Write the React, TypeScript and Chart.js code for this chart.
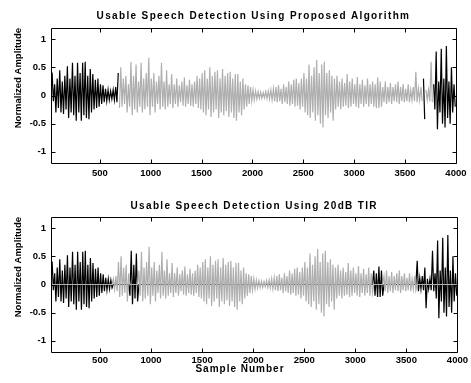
import React, { useEffect, useRef } from 'react';
import { Chart, registerables } from 'chart.js';

Chart.register(...registerables);

// Envelope of the speech signal: one positive and one
// negative peak for each window of 25 samples (160 windows = 4000 samples).
const WINDOW_SIZE = 25;
const upperPeaks = [
  0.05, 0.41, 0.2, 0.3, 0.45, 0.25, 0.35, 0.52, 0.3, 0.58,
  0.35, 0.58, 0.4, 0.58, 0.6, 0.35, 0.47, 0.38, 0.28, 0.3,
  0.2, 0.18, 0.12, 0.1, 0.08, 0.1, 0.15, 0.4, 0.5, 0.3,
  0.35, 0.2, 0.6, 0.35, 0.55, 0.25, 0.58, 0.3, 0.4, 0.67,
  0.3, 0.4, 0.25, 0.35, 0.58, 0.25, 0.45, 0.2, 0.38, 0.2,
  0.3, 0.18, 0.25, 0.32, 0.18, 0.28, 0.2, 0.25, 0.35, 0.3,
  0.4, 0.45, 0.3, 0.5, 0.35, 0.42, 0.45, 0.3, 0.47, 0.35,
  0.4, 0.42, 0.3, 0.38, 0.38, 0.25, 0.3, 0.2, 0.18, 0.15,
  0.1, 0.08, 0.07, 0.06, 0.05, 0.07, 0.08, 0.1, 0.12, 0.15,
  0.18, 0.12, 0.2, 0.15, 0.25, 0.2, 0.28, 0.3, 0.22, 0.3,
  0.4, 0.3, 0.55, 0.35, 0.5, 0.63, 0.4, 0.55, 0.6, 0.4,
  0.45, 0.35, 0.3, 0.35, 0.25, 0.3, 0.22, 0.38, 0.25, 0.3,
  0.2, 0.33, 0.2, 0.28, 0.18, 0.3, 0.2, 0.25, 0.2, 0.32,
  0.25, 0.15, 0.25, 0.15, 0.22, 0.15, 0.2, 0.25, 0.15, 0.2,
  0.12, 0.2, 0.1, 0.15, 0.42, 0.12, 0.15, 0.3, 0.1, 0.1,
  0.6, 0.2, 0.78, 0.25, 0.83, 0.3, 0.88, 0.25, 0.5, 0.2,
];
const lowerPeaks = [
  -0.05, -0.1, -0.3, -0.22, -0.3, -0.33, -0.25, -0.4, -0.3, -0.35,
  -0.45, -0.3, -0.45, -0.35, -0.4, -0.42, -0.3, -0.25, -0.22, -0.2,
  -0.15, -0.12, -0.1, -0.08, -0.06, -0.08, -0.12, -0.22, -0.2, -0.15,
  -0.3, -0.2, -0.35, -0.25, -0.3, -0.2, -0.3, -0.25, -0.2, -0.35,
  -0.2, -0.3, -0.15, -0.25, -0.2, -0.25, -0.2, -0.15, -0.22, -0.15,
  -0.2, -0.12, -0.18, -0.2, -0.15, -0.18, -0.2, -0.15, -0.22, -0.25,
  -0.3, -0.35, -0.25, -0.38, -0.3, -0.25, -0.4, -0.3, -0.35, -0.28,
  -0.38, -0.3, -0.4, -0.45, -0.3, -0.35, -0.25, -0.2, -0.15, -0.1,
  -0.08, -0.06, -0.05, -0.05, -0.04, -0.05, -0.06, -0.08, -0.1, -0.12,
  -0.1, -0.15, -0.12, -0.15, -0.18, -0.15, -0.2, -0.18, -0.25, -0.2,
  -0.3, -0.35, -0.4, -0.3, -0.45, -0.35, -0.5, -0.57, -0.35, -0.4,
  -0.3, -0.45, -0.25, -0.2, -0.25, -0.2, -0.18, -0.22, -0.2, -0.15,
  -0.2, -0.22, -0.15, -0.2, -0.15, -0.2, -0.15, -0.2, -0.22, -0.22,
  -0.2, -0.12, -0.15, -0.12, -0.15, -0.1, -0.12, -0.15, -0.1, -0.12,
  -0.1, -0.12, -0.08, -0.1, -0.12, -0.08, -0.1, -0.42, -0.08, -0.1,
  -0.12, -0.25, -0.6, -0.3, -0.5, -0.57, -0.4, -0.5, -0.3, -0.2,
];

// Sample ranges marked "usable" (drawn black) in each panel
const topUsableRanges = [[0, 690], [3670, 3700], [3770, 4000]];
const bottomUsableRanges = [[0, 630], [790, 875], [3180, 3280], [3600, 4000]];

const xRange = [20, 4000];
const yRange = [-1.2, 1.2];
const xTickValues = [500, 1000, 1500, 2000, 2500, 3000, 3500, 4000];
const yTickValues = [-1, -0.5, 0, 0.5, 1];
const yTickLabels = ['-1', '-0.5', '0', '0.5', '1'];

const topTitle = 'Usable Speech Detection Using Proposed Algorithm';
const bottomTitle = 'Usable Speech Detection Using 20dB TIR';
const yAxisLabel = 'Normalized Amplitude';
const xAxisLabel = 'Sample Number';

const FONT = "'Liberation Sans', Arial, Helvetica, sans-serif";
const GRAY = 'rgb(175,175,175)';
const TITLE_SPACING = 1.35;
const XLABEL_SPACING = 1.0;

type Pt = { x: number; y: number | null };

function buildSeries(usable: number[][], mode: 'gap' | 'zero') {
  const black: Pt[] = [];
  const gray: Pt[] = [];
  const other = mode === 'zero' ? 0 : null;
  upperPeaks.forEach((hi, i) => {
    const start = i * WINDOW_SIZE;
    const pts: [number, number][] = [
      [start + 6, hi],
      [start + 18, lowerPeaks[i]],
    ];
    for (const [x, y] of pts) {
      const inUse = usable.some(([a, b]) => x >= a && x <= b);
      black.push({ x, y: inUse ? y : other });
      gray.push({ x, y: inUse ? other : y });
    }
  });
  return { black, gray };
}

const spacingPlugin = {
  id: 'textSpacing',
  beforeDraw(chart: any) {
    chart.boxes.forEach((box: any) => {
      if (box.__spaced || !box.options || typeof box.options.text !== 'string') return;
      const spacing = box.options.text === xAxisLabel ? XLABEL_SPACING : TITLE_SPACING;
      const draw = box.draw.bind(box);
      box.draw = (area: any) => {
        const ctx = chart.ctx as any;
        const prev = ctx.letterSpacing;
        ctx.letterSpacing = spacing + 'px';
        draw(area);
        ctx.letterSpacing = prev || '0px';
      };
      box.__spaced = true;
    });
  },
};

const framePlugin = {
  id: 'matlabFrame',
  afterDraw(chart: any) {
    const { ctx, chartArea: a } = chart;
    const x = chart.scales.x;
    const y = chart.scales.y;
    const L = Math.round(a.left) + 0.5;
    const R = Math.round(a.right) + 0.5;
    const T = Math.round(a.top) + 0.5;
    const B = Math.round(a.bottom) + 0.5;
    const len = 4;
    ctx.save();
    ctx.strokeStyle = '#000';
    ctx.lineWidth = 1;
    ctx.beginPath();
    ctx.rect(L, T, R - L, B - T);
    for (const v of xTickValues) {
      const px = Math.round(x.getPixelForValue(v)) + 0.5;
      ctx.moveTo(px, B);
      ctx.lineTo(px, B - len);
      ctx.moveTo(px, T);
      ctx.lineTo(px, T + len);
    }
    for (const v of yTickValues) {
      const py = Math.round(y.getPixelForValue(v)) + 0.5;
      ctx.moveTo(L, py);
      ctx.lineTo(L + len, py);
      ctx.moveTo(R, py);
      ctx.lineTo(R - len, py);
    }
    ctx.stroke();
    ctx.restore();
  },
};

type PanelProps = {
  title: string;
  usable: number[][];
  mode: 'gap' | 'zero';
  showXLabel: boolean;
  height: number;
  titleBottomPad: number;
  xAxisHeight: number;
  xTickPad: number;
};

function SpeechPanel(props: PanelProps) {
  const ref = useRef<HTMLCanvasElement>(null);
  useEffect(() => {
    const { black, gray } = buildSeries(props.usable, props.mode);
    const tickFont = { family: FONT, size: 9.5, weight: 'bold' as const };
    const chart = new Chart(ref.current as HTMLCanvasElement, {
      type: 'line',
      data: {
        datasets: [
          {
            data: gray as any,
            borderColor: GRAY,
            borderWidth: 1.2,
            pointRadius: 0,
            fill: false,
            tension: 0,
            spanGaps: false,
          },
          {
            data: black as any,
            borderColor: '#000',
            borderWidth: 1.2,
            pointRadius: 0,
            fill: false,
            tension: 0,
            spanGaps: false,
          },
        ],
      },
      options: {
        animation: false,
        responsive: false,
        devicePixelRatio: 1,
        events: [],
        layout: { padding: { left: 20, right: 11, top: 0, bottom: 0 } },
        plugins: {
          legend: { display: false },
          tooltip: { enabled: false },
          title: {
            display: true,
            text: props.title,
            fullSize: false,
            color: '#000',
            font: { family: FONT, size: 10, weight: 'bold', lineHeight: 1.2 },
            padding: { top: 10, bottom: props.titleBottomPad },
          },
          subtitle: {
            display: props.showXLabel,
            text: xAxisLabel,
            position: 'bottom',
            fullSize: true,
            color: '#000',
            font: { family: FONT, size: 10, weight: 'bold', lineHeight: 1.2 },
            padding: { top: 0, bottom: 8 },
          },
        },
        scales: {
          x: {
            type: 'linear',
            min: xRange[0],
            max: xRange[1],
            grid: { display: false, drawTicks: false },
            border: { display: false },
            ticks: {
              color: '#000',
              font: tickFont,
              padding: props.xTickPad,
              autoSkip: false,
              maxRotation: 0,
              minRotation: 0,
              callback: (v: any) => String(v),
            },
            afterBuildTicks: (s: any) => {
              s.ticks = xTickValues.map((value) => ({ value }));
            },
            afterFit: (s: any) => {
              s.height = props.xAxisHeight;
            },
          },
          y: {
            type: 'linear',
            min: yRange[0],
            max: yRange[1],
            grid: { display: false, drawTicks: false },
            border: { display: false },
            ticks: {
              color: '#000',
              font: tickFont,
              padding: 5,
              callback: (v: any) => {
                const idx = yTickValues.indexOf(Number(v));
                return idx >= 0 ? yTickLabels[idx] : '';
              },
            },
            afterBuildTicks: (s: any) => {
              s.ticks = yTickValues.map((value) => ({ value }));
            },
            afterFit: (s: any) => {
              s.width = 31;
            },
            title: {
              display: true,
              text: yAxisLabel,
              align: 'end',
              color: '#000',
              font: { family: FONT, size: 9.5, weight: 'bold', lineHeight: 1.2 },
              padding: { top: -7.7, bottom: 0 },
            },
          },
        },
      },
      plugins: [spacingPlugin, framePlugin],
    });
    return () => chart.destroy();
  }, []);
  return (
    <canvas
      ref={ref}
      width={471}
      height={props.height}
      style={{ display: 'block', width: 471, height: props.height }}
    />
  );
}

export default function App() {
  return (
    <div style={{ position: 'fixed', left: 0, top: 0, width: 471, height: 383, background: '#fff' }}>
      <SpeechPanel
        title={topTitle}
        usable={topUsableRanges}
        mode="gap"
        showXLabel={false}
        height={190}
        titleBottomPad={6}
        xAxisHeight={27}
        xTickPad={4.5}
      />
      <SpeechPanel
        title={bottomTitle}
        usable={bottomUsableRanges}
        mode="zero"
        showXLabel={true}
        height={193}
        titleBottomPad={5}
        xAxisHeight={11}
        xTickPad={3}
      />
    </div>
  );
}
